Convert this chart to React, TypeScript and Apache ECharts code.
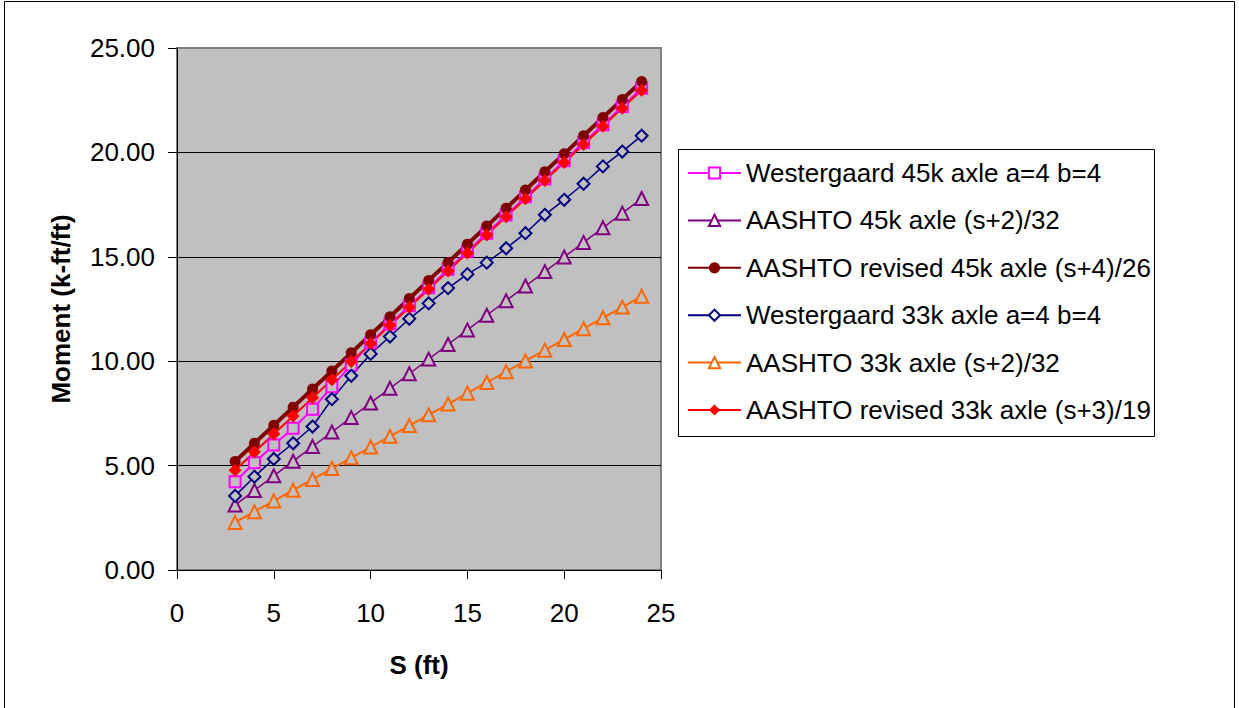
import React, { useEffect, useRef } from "react";
import * as echarts from "echarts";

const spans = [3, 4, 5, 6, 7, 8, 9, 10, 11, 12, 13, 14, 15, 16, 17, 18, 19, 20, 21, 22, 23, 24];

const westergaard45 = [4.23, 5.14, 5.99, 6.79, 7.70, 8.78, 9.82, 10.88, 11.78, 12.65, 13.52, 14.40, 15.27, 16.13, 17.00, 17.87, 18.73, 19.60, 20.47, 21.33, 22.20, 23.07];
const aashto45 = [3.11, 3.81, 4.51, 5.21, 5.91, 6.61, 7.30, 8.00, 8.70, 9.40, 10.10, 10.80, 11.50, 12.20, 12.90, 13.60, 14.29, 14.99, 15.69, 16.39, 17.09, 17.79];
const aashtoRevised45 = [5.20, 6.07, 6.93, 7.80, 8.67, 9.53, 10.40, 11.27, 12.13, 13.00, 13.87, 14.73, 15.60, 16.47, 17.33, 18.20, 19.07, 19.93, 20.80, 21.67, 22.53, 23.40];
const westergaard33 = [3.55, 4.47, 5.32, 6.07, 6.87, 8.18, 9.30, 10.35, 11.18, 12.03, 12.77, 13.50, 14.17, 14.72, 15.41, 16.13, 17.01, 17.73, 18.50, 19.33, 20.04, 20.80];
const aashto33 = [2.28, 2.79, 3.31, 3.82, 4.34, 4.86, 5.37, 5.89, 6.40, 6.92, 7.43, 7.95, 8.47, 8.98, 9.50, 10.01, 10.53, 11.04, 11.56, 12.08, 12.59, 13.11];
const aashtoRevised33 = [4.78, 5.65, 6.51, 7.38, 8.25, 9.11, 9.98, 10.85, 11.72, 12.58, 13.45, 14.32, 15.18, 16.05, 16.92, 17.78, 18.65, 19.52, 20.38, 21.25, 22.12, 22.98];

const seriesNames = [
  "Westergaard 45k axle a=4 b=4",
  "AASHTO 45k axle (s+2)/32",
  "AASHTO revised 45k axle (s+4)/26",
  "Westergaard 33k axle a=4 b=4",
  "AASHTO 33k axle (s+2)/32",
  "AASHTO revised 33k axle (s+3)/19",
];

const xTicks = [0, 5, 10, 15, 20, 25];
const yTicks = [0, 5, 10, 15, 20, 25];

const FONT = "'Liberation Sans', Arial, sans-serif";
const PLOT_BG = "#C0C0C0";

function pairs(vals: number[]) {
  return spans.map((s, i) => [s, vals[i]]);
}

export default function App() {
  const ref = useRef<HTMLDivElement>(null);

  useEffect(() => {
    if (!ref.current) return;
    const chart = echarts.init(ref.current, undefined, { renderer: "svg" });

    const mk = (
      name: string,
      vals: number[],
      color: string,
      symbol: string,
      size: number,
      hollow: boolean,
      lw: number
    ) => ({
      name,
      type: "line",
      data: pairs(vals),
      symbol,
      symbolSize: size,
      showSymbol: true,
      lineStyle: { color, width: lw },
      itemStyle: hollow
        ? { color: PLOT_BG, borderColor: color, borderWidth: 2 }
        : { color, borderColor: color, borderWidth: 0 },
      z: 2,
    });

    const option: any = {
      animation: false,
      backgroundColor: "#ffffff",
      textStyle: { fontFamily: FONT },
      grid: {
        left: 177,
        top: 48,
        right: 578,
        bottom: 138,
        show: true,
        backgroundColor: PLOT_BG,
        borderColor: "#808080",
        borderWidth: 2,
      },
      xAxis: {
        type: "value",
        min: xTicks[0],
        max: xTicks[xTicks.length - 1],
        interval: 5,
        name: "S (ft)",
        nameLocation: "middle",
        nameGap: 82,
        nameTextStyle: { fontSize: 26, fontWeight: "bold", color: "#000", fontFamily: FONT },
        axisLine: { show: true, lineStyle: { color: "#000", width: 1 } },
        axisTick: { show: true, inside: false, length: 9, lineStyle: { color: "#000" } },
        axisLabel: { color: "#000", fontSize: 26, margin: 30, fontFamily: FONT },
        splitLine: { show: false },
      },
      yAxis: {
        type: "value",
        min: yTicks[0],
        max: yTicks[yTicks.length - 1],
        interval: 5,
        name: "Moment (k-ft/ft)",
        nameLocation: "middle",
        nameGap: 103,
        nameTextStyle: { fontSize: 26, fontWeight: "bold", color: "#000", fontFamily: FONT },
        axisLine: { show: true, lineStyle: { color: "#000", width: 1 } },
        axisTick: { show: true, inside: false, length: 9, lineStyle: { color: "#000" } },
        axisLabel: {
          color: "#000",
          fontSize: 26,
          margin: 22,
          fontFamily: FONT,
          formatter: (v: number) => v.toFixed(2),
        },
        splitLine: {
          show: true,
          lineStyle: { color: ["#000", "#000", "#000", "#000", "#000", "#808080"], width: 1 },
        },
      },
      legend: {
        orient: "vertical",
        left: 687,
        top: 158,
        itemWidth: 53,
        itemHeight: 14,
        itemGap: 17.4,
        padding: 0,
        textStyle: { fontSize: 26, lineHeight: 30, color: "#000", fontFamily: FONT },
        data: [
          { name: seriesNames[0], itemStyle: { color: "#fff" } },
          { name: seriesNames[1], itemStyle: { color: "#fff" } },
          { name: seriesNames[2] },
          { name: seriesNames[3], itemStyle: { color: "#fff" } },
          { name: seriesNames[4], itemStyle: { color: "#fff" } },
          { name: seriesNames[5] },
        ],
      },
      graphic: [
        {
          type: "rect",
          shape: { x: 678.5, y: 149.5, width: 476, height: 287 },
          style: { fill: "none", stroke: "#000", lineWidth: 1 },
          z: -1,
          silent: true,
        },
        {
          type: "rect",
          shape: { x: 4.5, y: 1.5, width: 1230, height: 720 },
          style: { fill: "none", stroke: "#000", lineWidth: 1 },
          silent: true,
        },
      ],
      series: [
        mk(seriesNames[0], westergaard45, "#FF00FF", "rect", 11, true, 2),
        mk(seriesNames[1], aashto45, "#800080", "triangle", 13, true, 1.5),
        mk(seriesNames[2], aashtoRevised45, "#800000", "circle", 11, false, 4),
        mk(seriesNames[3], westergaard33, "#000080", "diamond", 12, true, 1.5),
        mk(seriesNames[4], aashto33, "#FF6600", "triangle", 13, true, 2),
        mk(seriesNames[5], aashtoRevised33, "#FF0000", "diamond", 13, false, 2),
      ],
    };

    chart.setOption(option);
    return () => chart.dispose();
  }, []);

  return (
    <div
      ref={ref}
      style={{ position: "fixed", left: 0, top: 0, width: 1239, height: 708, background: "#fff" }}
    />
  );
}
